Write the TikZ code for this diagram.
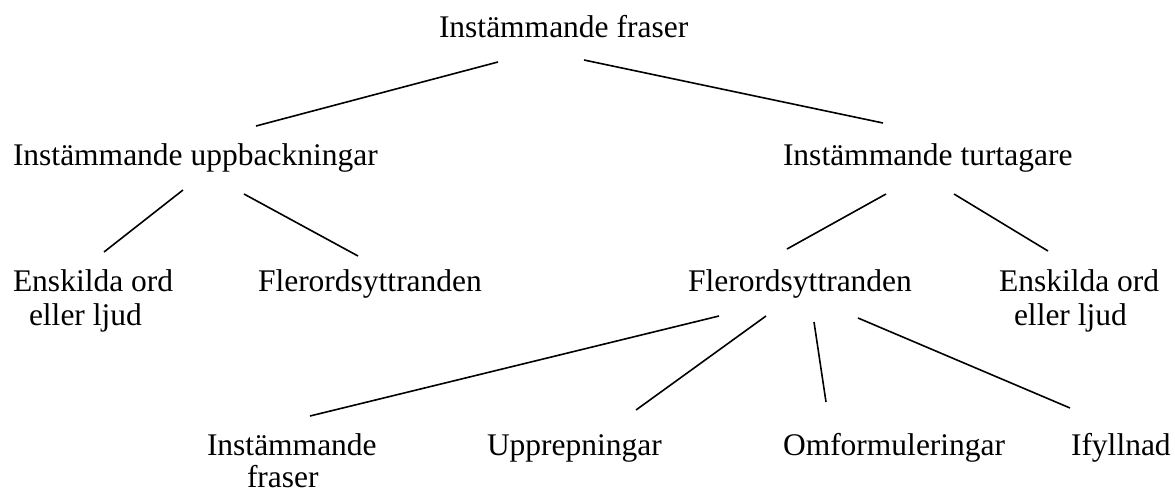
\documentclass[tikz,border=0pt]{standalone}
\usepackage{fontspec}
\setmainfont{Liberation Serif}
\begin{document}
\begin{tikzpicture}[x=1pt,y=-1pt,
  lbl/.style={inner sep=0pt, outer sep=0pt, anchor=base west,
              font=\fontsize{31.5}{35}\selectfont},
  edge/.style={draw=black, line width=1.6pt}]
\useasboundingbox (0,0) rectangle (1175,490);

% level 0
\node[lbl] (root) at (439,37) {Instämmande fraser};

% level 1
\node[lbl] (upb)  at (13,165)  {Instämmande uppbackningar};
\node[lbl] (turt) at (783,165) {Instämmande turtagare};

% level 2
\node[lbl] (ensL)  at (13,291)  {Enskilda ord};
\node[lbl] (ensLb) at (29,325)  {eller ljud};
\node[lbl] (flerL) at (258,291) {Flerordsyttranden};
\node[lbl] (flerR) at (688,291) {Flerordsyttranden};
\node[lbl] (ensR)  at (999,291) {Enskilda ord};
\node[lbl] (ensRb) at (1014,325) {eller ljud};

% level 3
\node[lbl] (insF)  at (207,455) {Instämmande};
\node[lbl] (insFb) at (247,487) {fraser};
\node[lbl] (upp)   at (487,455) {Upprepningar};
\node[lbl] (omf)   at (783,455) {Omformuleringar};
\node[lbl] (ify)   at (1071,455) {Ifyllnad};

% connectors
\draw[edge] ([shift={(59,25)}]root.base west)  -- ([shift={(243,-39)}]upb.base west);
\draw[edge] ([shift={(145,23)}]root.base west) -- ([shift={(100,-42)}]turt.base west);

\draw[edge] ([shift={(170,25)}]upb.base west) -- ([shift={(91,-39)}]ensL.base west);
\draw[edge] ([shift={(231,29)}]upb.base west) -- ([shift={(100,-35)}]flerL.base west);

\draw[edge] ([shift={(103,29)}]turt.base west) -- ([shift={(99,-42)}]flerR.base west);
\draw[edge] ([shift={(171,29)}]turt.base west) -- ([shift={(49,-40)}]ensR.base west);

\draw[edge] ([shift={(31,25)}]flerR.base west)  -- ([shift={(103,-39)}]insF.base west);
\draw[edge] ([shift={(78,25)}]flerR.base west)  -- ([shift={(149,-45)}]upp.base west);
\draw[edge] ([shift={(126,31)}]flerR.base west) -- ([shift={(43,-53)}]omf.base west);
\draw[edge] ([shift={(170,27)}]flerR.base west) -- ([shift={(-1,-47)}]ify.base west);
\end{tikzpicture}
\end{document}
